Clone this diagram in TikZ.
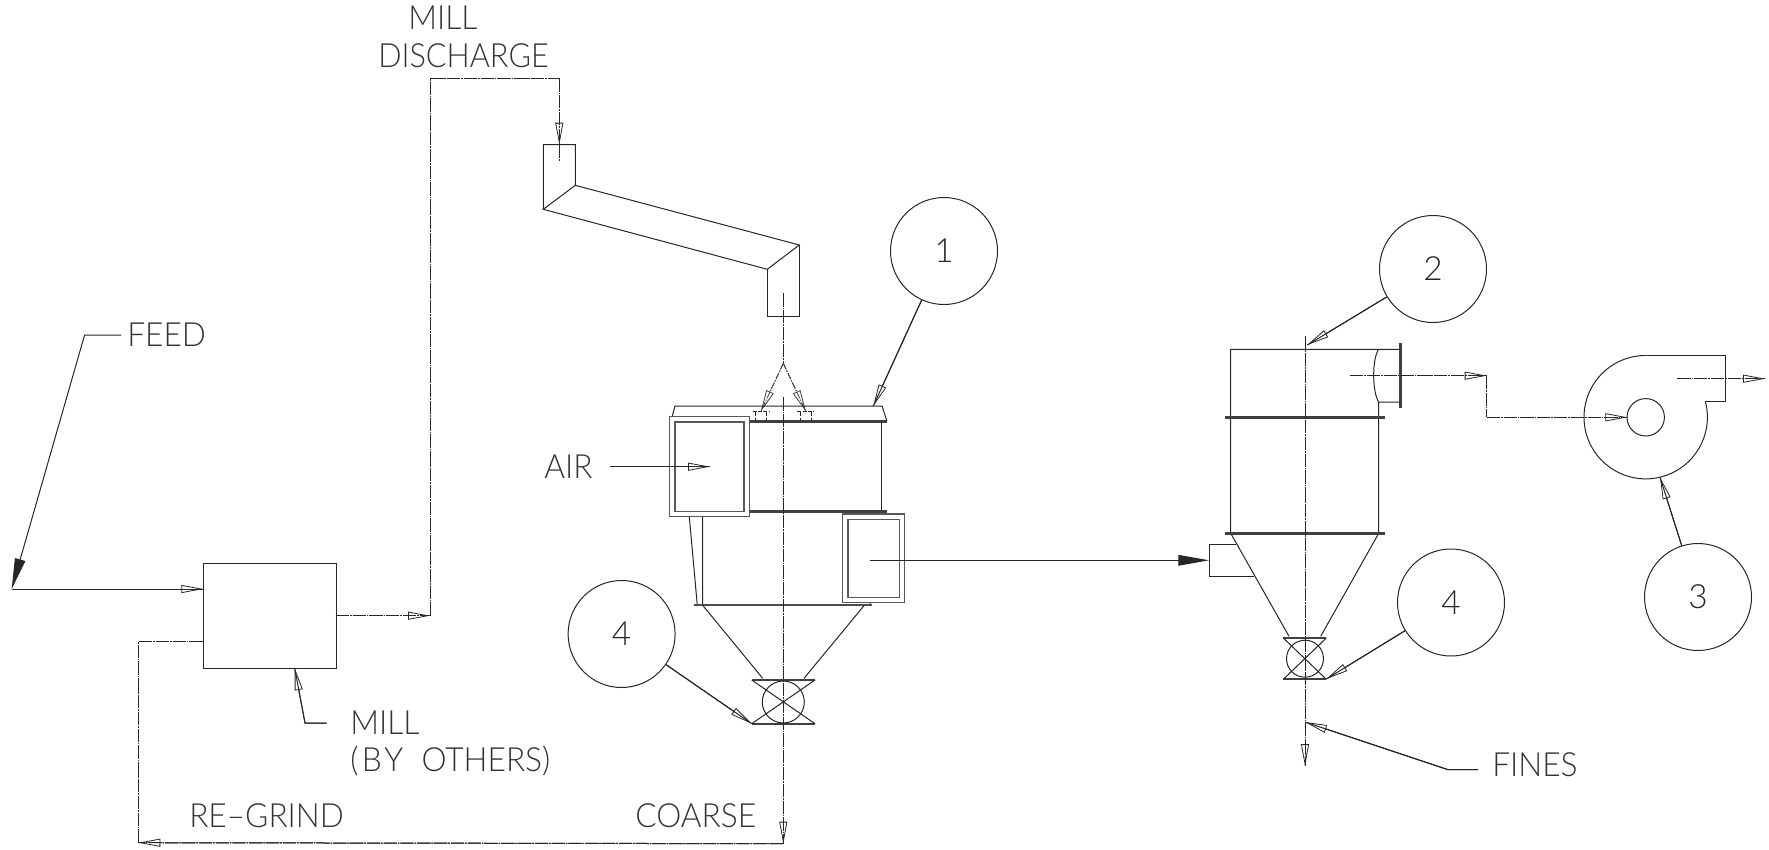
\documentclass[tikz,border=0pt]{standalone}
\usepackage{fontspec}
\setmainfont{Lato Light}
\usetikzlibrary{arrows.meta}
\tikzset{
  x=0.75pt,y=-0.75pt,
  ln/.style={line width=0.75pt,black!85},
  thick line/.style={line width=1.9pt,black!75},
  frame/.style={line width=1pt,black!65},
  ctr/.style={line width=0.75pt,black!85,dash pattern=on 10pt off 0.7pt on 1.2pt off 0.7pt},
  brn/.style={line width=0.6pt,black!75,dash pattern=on 5pt off 1pt on 1pt off 1pt},
  opn/.style={-{Triangle[open,fill=white,length=16.5pt,width=6pt,line width=0.6pt]},postaction={draw,arrows=-}},
  sld/.style={-{Triangle[length=23pt,width=8pt]}},
  lbl/.style={anchor=west,inner sep=0pt,font=\addfontfeature{FakeStretch=0.95}\fontsize{25pt}{25pt}\selectfont,text=black!80},
  lblnarrow/.style={lbl,font=\addfontfeature{FakeStretch=0.92}\fontsize{25pt}{25pt}\selectfont},
  numc/.style={circle,draw,line width=0.75pt,black!85,minimum size=80.25pt,inner sep=0pt,font=\fontsize{25pt}{25pt}\selectfont},
  millbox/.style={draw,line width=0.75pt,black!85,minimum width=99.3pt,minimum height=79.2pt,anchor=north west,inner sep=0pt},
}
\begin{document}
\begin{tikzpicture}
\useasboundingbox (0,0) rectangle (1769,849);
% labels
\node[lbl] (tmill) at (408,18) {MILL};
\node[lblnarrow] (tdis) at (378,56) {DISCHARGE};
\node[lbl] (tfeed) at (127,335) {FEED};
\node[lbl] (tair) at (544,467) {AIR};
\node[lbl] (tmill2) at (350,723) {MILL};
\node[lbl] (tby) at (350,761) {{\addfontfeature{LetterSpace=10}(BY}\hspace{0.55em}OTHERS)};
\node[lbl] (tre) at (189,816) {RE--GRIND};
\node[lbl] (tco) at (635,816) {COARSE};
\node[lbl] (tfi) at (1492,765) {FINES};
% numbered circles
\node[numc] (c1) at (944,251) {1};
\node[numc] (c2) at (1433,269) {2};
\node[numc] (c3) at (1698,597) {3};
\node[numc] (c4a) at (621.6,634) {4};
\node[numc] (c4b) at (1451,602.5) {4};
% mill
\node[millbox] (mill) at (203.3,562.7) {};
% feed
\coordinate (fa) at (121,335); \coordinate (fb) at (84.6,335); \coordinate (fc) at (11.7,589);
\draw[ln,sld] (fa) -- (fb) -- (fc);
\draw[ln,opn] (fc) -- (fc -| mill.west);
% mill leader
\coordinate (ma) at (326.7,723); \coordinate (mb) at (305,723); \coordinate (mc) at (294.7,668.3);
\draw[ln,opn] (ma) -- (mb) -- (mc);
% mill discharge
\coordinate (da) at (335.7,615.7); \coordinate (db) at (430,615.7); \coordinate (dc) at (430,78.3);
\coordinate (dd) at (559.3,78.3); \coordinate (de) at (559.3,144.7); \coordinate (df) at (559.3,160.7);
\draw[ctr,opn] (da) -- (db);
\draw[ctr] (db) -- (dc) -- (dd);
\draw[ctr,opn] (dd) -- (de);
\draw[ctr] (de) -- (df);
% chute
\draw[ln] (543.3,209.3) -- (543.3,144.7) -- (575.3,144.7) -- (575.3,185.3) -- (543.3,209.3) -- (767.3,269.3) -- (799.3,245) -- (575.3,185.3);
\draw[ln] (767.3,269.3) -- (767.3,316.7) -- (799.3,316.7) -- (799.3,245);
% centre line of chute and branches
\coordinate (ap) at (783.3,363.3); \coordinate (tl) at (760.7,411.7); \coordinate (tr) at (806,411.7);
\draw[ctr] (783.3,293.3) -- (ap);
\draw[brn,opn] (ap) -- (tl);
\draw[brn,opn] (ap) -- (tr);
% classifier top
\draw[ln] (672,417) -- (675,406) -- (882,406) -- (887,421.3);
\draw[thick line] (749,421.3) -- (887,421.3);
\draw[ln] (881,421.3) -- (881,511.7);
\draw[thick line] (749,511.7) -- (887,511.7);
\draw[ln,densely dashed] (755.3,411.7) -- (755.3,421) (766,411.7) -- (766,421) (800.7,411.7) -- (800.7,421) (811.3,411.7) -- (811.3,421);
\draw[ln,dash pattern=on 3pt off 1pt] (752.7,411.7) -- (769.3,411.7) (797.3,411.7) -- (814,411.7);
% air box
\draw[frame,fill=white] (669.7,416.7) rectangle (749.3,516.7);
\draw[frame] (675,422) rectangle (744,511.3);
% lower body
\draw[ln] (689.3,516.7) -- (697.3,605.3) (702.7,516.7) -- (702.7,605.3) (870,602) -- (870,605.3);
\draw[line width=1.3pt,black!70] (694.3,605.3) -- (872.3,605.3);
\draw[ln] (702.7,605.3) -- (762.7,678.3) (864.3,605.3) -- (804,678.3);
% outlet box
\draw[frame,fill=white] (842.7,514) rectangle (904.3,602.3);
\draw[frame] (848,519.3) rectangle (899.7,597.3);
% valve 1
\draw[thick line] (751.7,680) -- (815,680);
\draw[line width=1.3pt,black!75] (751.7,723.7) -- (815,723.7);
\draw[ln] (751.7,680) -- (815,723.7) (815,680) -- (751.7,723.7);
\draw[ln] (783.3,702) circle[radius=21];
% centre line lower
\coordinate (cb) at (783.3,843.7);
\draw[ctr,opn] (783.3,397.3) -- (cb);
% regrind
\coordinate (ra) at (138.3,842.7); \coordinate (rb) at (138.3,641.7);
\draw[ctr,opn] (cb) -- (ra);
\draw[ctr] (ra) -- (rb) -- (rb -| mill.west);
% leaders
\coordinate (t1) at (873.3,406); \coordinate (t4a) at (751.7,723.7);
\draw[ln,opn] (c1) -- (t1);
\draw[ln,opn] (c4a) -- (t4a);
% air arrow
\coordinate (aa) at (610,466.7); \coordinate (ab) at (710,466.7);
\draw[ln,opn] (aa) -- (ab);
% transport line
\coordinate (ta) at (870,560.3); \coordinate (tb) at (1209,560.3);
\draw[ln,sld] (ta) -- (tb);
% cyclone
\draw[ln] (1400,349.3) -- (1230.7,349.3) -- (1230.7,533.3) -- (1289,636.3);
\draw[ln] (1400,402) -- (1378.7,402) -- (1378.7,533.3) -- (1320.7,636.3);
\draw[ln] (1378.7,349.3) .. controls (1372,358) and (1372,392) .. (1378.7,402);
\draw[thick line] (1400.3,343.3) -- (1400.3,407.7);
\draw[thick line] (1225,417.3) -- (1384.7,417.3);
\draw[thick line] (1225,533.3) -- (1384.7,533.3);
\draw[ln] (1254.3,576.3) -- (1209.3,576.3) -- (1209.3,544.3) -- (1236,544.3);
% valve 2
\draw[thick line] (1283.3,638) -- (1326.3,638);
\draw[line width=1.3pt,black!75] (1283.3,679.3) -- (1326.3,679.3);
\draw[ln] (1283.3,638) -- (1326.3,679.3) (1326.3,638) -- (1283.3,679.3);
\draw[ln] (1305,658.7) circle[radius=18.5];
% cyclone centre line
\draw[ctr,opn] (1305,336) -- (1305,766);
% leaders
\coordinate (t2) at (1307.3,345); \coordinate (t4b) at (1326.3,679);
\draw[ln,opn] (c2) -- (t2);
\draw[ln,opn] (c4b) -- (t4b);
\coordinate (fa2) at (1478,769.5); \coordinate (fb2) at (1447.5,769.5); \coordinate (fc2) at (1305,722);
\draw[ln,opn] (fa2) -- (fb2) -- (fc2);
% outlet line
\coordinate (oa) at (1350,375.7); \coordinate (ob) at (1486.7,375.7); \coordinate (oc) at (1486.7,417.3); \coordinate (od) at (1627.3,417.3);
\draw[ctr,opn] (oa) -- (ob);
\draw[ctr] (ob) -- (oc);
\draw[ctr,opn] (oc) -- (od);
% fan
\draw[ln] (1645.7,355.7) -- (1725.3,355.7) -- (1725.3,401.3) -- (1705.3,401.3);
\draw[ln] (1705.3,401.3) arc[start angle=-14.9,end angle=270,radius=61.7];
\draw[ln] (1645.7,417.3) circle[radius=18.7];
\coordinate (fo) at (1677.3,378.7); \coordinate (fp) at (1765,378.7);
\draw[ctr,opn] (fo) -- (fp);
\coordinate (t3) at (1660,477.3);
\draw[ln,opn] (c3) -- (t3);
\end{tikzpicture}
\end{document}
